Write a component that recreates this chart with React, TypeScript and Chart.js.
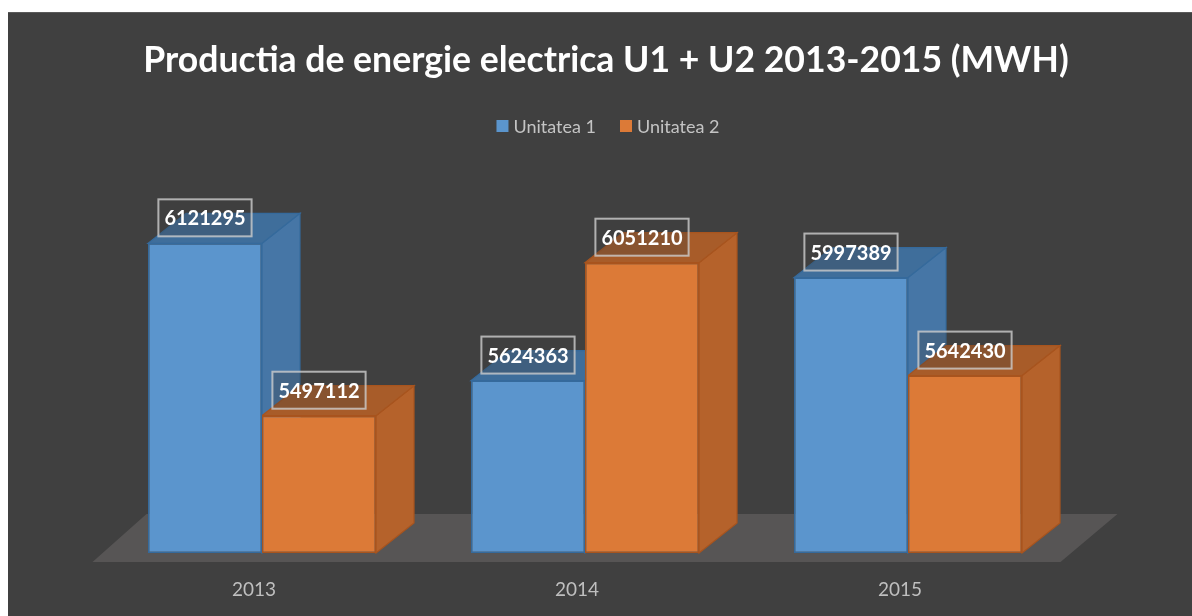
import React, { useEffect, useRef } from "react";
import { Chart, registerables } from "chart.js";

Chart.register(...registerables);

const categories = ["2013", "2014", "2015"];
const seriesNames = ["Unitatea 1", "Unitatea 2"];
const unitatea1 = [6121295, 5624363, 5997389];
const unitatea2 = [5497112, 6051210, 5642430];
const chartTitle = "Productia de energie electrica U1 + U2 2013-2015 (MWH)";
const yMin = 5000000;
const yMax = 6200000;

const frontColors = ["#5b95cd", "#dc7a37"];
const borderColors = ["#356a9c", "#a8541e"];
const topColors = ["#3f6e9b", "#a85c29"];
const sideColors = ["#4676a6", "#b5622b"];
const DX = 38;
const DY = -30;
const FONT = "Lato, 'Open Sans', sans-serif";

const bar3d = {
  id: "bar3d",
  beforeDatasetsDraw(chart: any) {
    const ctx = chart.ctx;
    const { left, right, bottom } = chart.chartArea;
    ctx.save();
    ctx.fillStyle = "#575555";
    ctx.beginPath();
    ctx.moveTo(left - 8, bottom + 9);
    ctx.lineTo(right - 9, bottom + 9);
    ctx.lineTo(right + 48, bottom - 39);
    ctx.lineTo(left + 46, bottom - 39);
    ctx.closePath();
    ctx.fill();

    chart.data.datasets.forEach((_ds: any, d: number) => {
      const meta = chart.getDatasetMeta(d);
      meta.data.forEach((el: any) => {
        const p = el.getProps(["x", "y", "base", "width"], true);
        const base = Math.min(p.base, bottom);
        const l = p.x - p.width / 2;
        const r = p.x + p.width / 2;
        ctx.lineWidth = 1.2;
        ctx.strokeStyle = borderColors[d];
        // side face
        ctx.fillStyle = sideColors[d];
        ctx.beginPath();
        ctx.moveTo(r, p.y);
        ctx.lineTo(r + DX, p.y + DY);
        ctx.lineTo(r + DX, base + DY);
        ctx.lineTo(r, base);
        ctx.closePath();
        ctx.fill();
        ctx.stroke();
        // top face
        ctx.fillStyle = topColors[d];
        ctx.beginPath();
        ctx.moveTo(l, p.y);
        ctx.lineTo(r, p.y);
        ctx.lineTo(r + DX, p.y + DY);
        ctx.lineTo(l + DX, p.y + DY);
        ctx.closePath();
        ctx.fill();
        ctx.stroke();
      });
    });
    ctx.restore();
  },
  afterDatasetsDraw(chart: any) {
    const ctx = chart.ctx;
    ctx.save();
    ctx.font = `bold 20px ${FONT}`;
    ctx.textAlign = "center";
    ctx.textBaseline = "middle";
    chart.data.datasets.forEach((ds: any, d: number) => {
      const meta = chart.getDatasetMeta(d);
      meta.data.forEach((el: any, i: number) => {
        const p = el.getProps(["x", "y"], true);
        const txt = String(ds.data[i]);
        const w = ctx.measureText(txt).width + 12;
        const h = 37;
        const top = p.y - 7 - h;
        ctx.fillStyle = "rgba(64,64,64,0.3)";
        ctx.fillRect(p.x - w / 2, top, w, h);
        ctx.strokeStyle = "rgba(205,205,205,0.8)";
        ctx.lineWidth = 2;
        ctx.strokeRect(p.x - w / 2, top, w, h);
        ctx.fillStyle = "#ffffff";
        ctx.fillText(txt, p.x, top + h / 2 + 1);
      });
    });
    ctx.restore();
  },
  afterDraw(chart: any) {
    const ctx = chart.ctx;
    const xs = chart.scales.x;
    const { bottom } = chart.chartArea;
    ctx.save();
    // title
    ctx.fillStyle = "#ffffff";
    ctx.font = `bold 35.6px ${FONT}`;
    ctx.textAlign = "center";
    ctx.textBaseline = "middle";
    ctx.fillText(chartTitle, 598, 48);
    // legend
    ctx.font = `18px ${FONT}`;
    const gap = 5;
    const sq = 12;
    const between = 24;
    const widths = seriesNames.map((n) => sq + gap + ctx.measureText(n).width);
    const total = widths.reduce((a, b) => a + b, 0) + between;
    let x = 600 - total / 2;
    ctx.textAlign = "left";
    seriesNames.forEach((n, i) => {
      ctx.fillStyle = frontColors[i];
      ctx.fillRect(x, 113 - sq / 2, sq, sq);
      ctx.fillStyle = "#c4c4c4";
      ctx.fillText(n, x + sq + gap, 114);
      x += widths[i] + between;
    });
    // category ticks
    ctx.font = `19px ${FONT}`;
    ctx.textAlign = "center";
    ctx.fillStyle = "#bfbfbf";
    categories.forEach((c, i) => {
      ctx.fillText(c, xs.getPixelForValue(i) - 8, bottom + 37);
    });
    ctx.restore();
  },
};

export default function App() {
  const ref = useRef<HTMLCanvasElement | null>(null);
  useEffect(() => {
    document.body.style.margin = "0";
    document.body.style.overflow = "hidden";
    if (!ref.current) return;
    const chart = new Chart(ref.current, {
      type: "bar",
      data: {
        labels: categories,
        datasets: [
          {
            label: seriesNames[0],
            data: unitatea1,
            base: yMin,
            backgroundColor: frontColors[0],
            borderColor: borderColors[0],
            borderWidth: 1.5,
            borderSkipped: false,
          },
          {
            label: seriesNames[1],
            data: unitatea2,
            base: yMin,
            backgroundColor: frontColors[1],
            borderColor: borderColors[1],
            borderWidth: 1.5,
            borderSkipped: false,
          },
        ],
      },
      options: {
        responsive: false,
        animation: false,
        devicePixelRatio: 1,
        layout: { padding: { left: 92.5, right: 122.5, top: 208.6, bottom: 63 } },
        datasets: { bar: { categoryPercentage: 0.706, barPercentage: 1 } },
        scales: {
          x: { display: false, offset: true },
          y: { display: false, min: yMin, max: yMax },
        },
        plugins: {
          legend: { display: false },
          title: { display: false },
          tooltip: { enabled: false },
        },
      },
      plugins: [bar3d],
    });
    return () => chart.destroy();
  }, []);
  return (
    <div style={{ position: "relative", width: 1192, height: 616, background: "#ffffff", overflow: "hidden" }}>
      <div
        style={{
          position: "absolute",
          left: 8,
          top: 12,
          width: 1184,
          height: 604,
          background: "#404040",
          borderTop: "1px solid #5a5a5a",
          boxSizing: "border-box",
        }}
      >
        <canvas ref={ref} width={1184} height={603} style={{ display: "block" }} />
      </div>
    </div>
  );
}
